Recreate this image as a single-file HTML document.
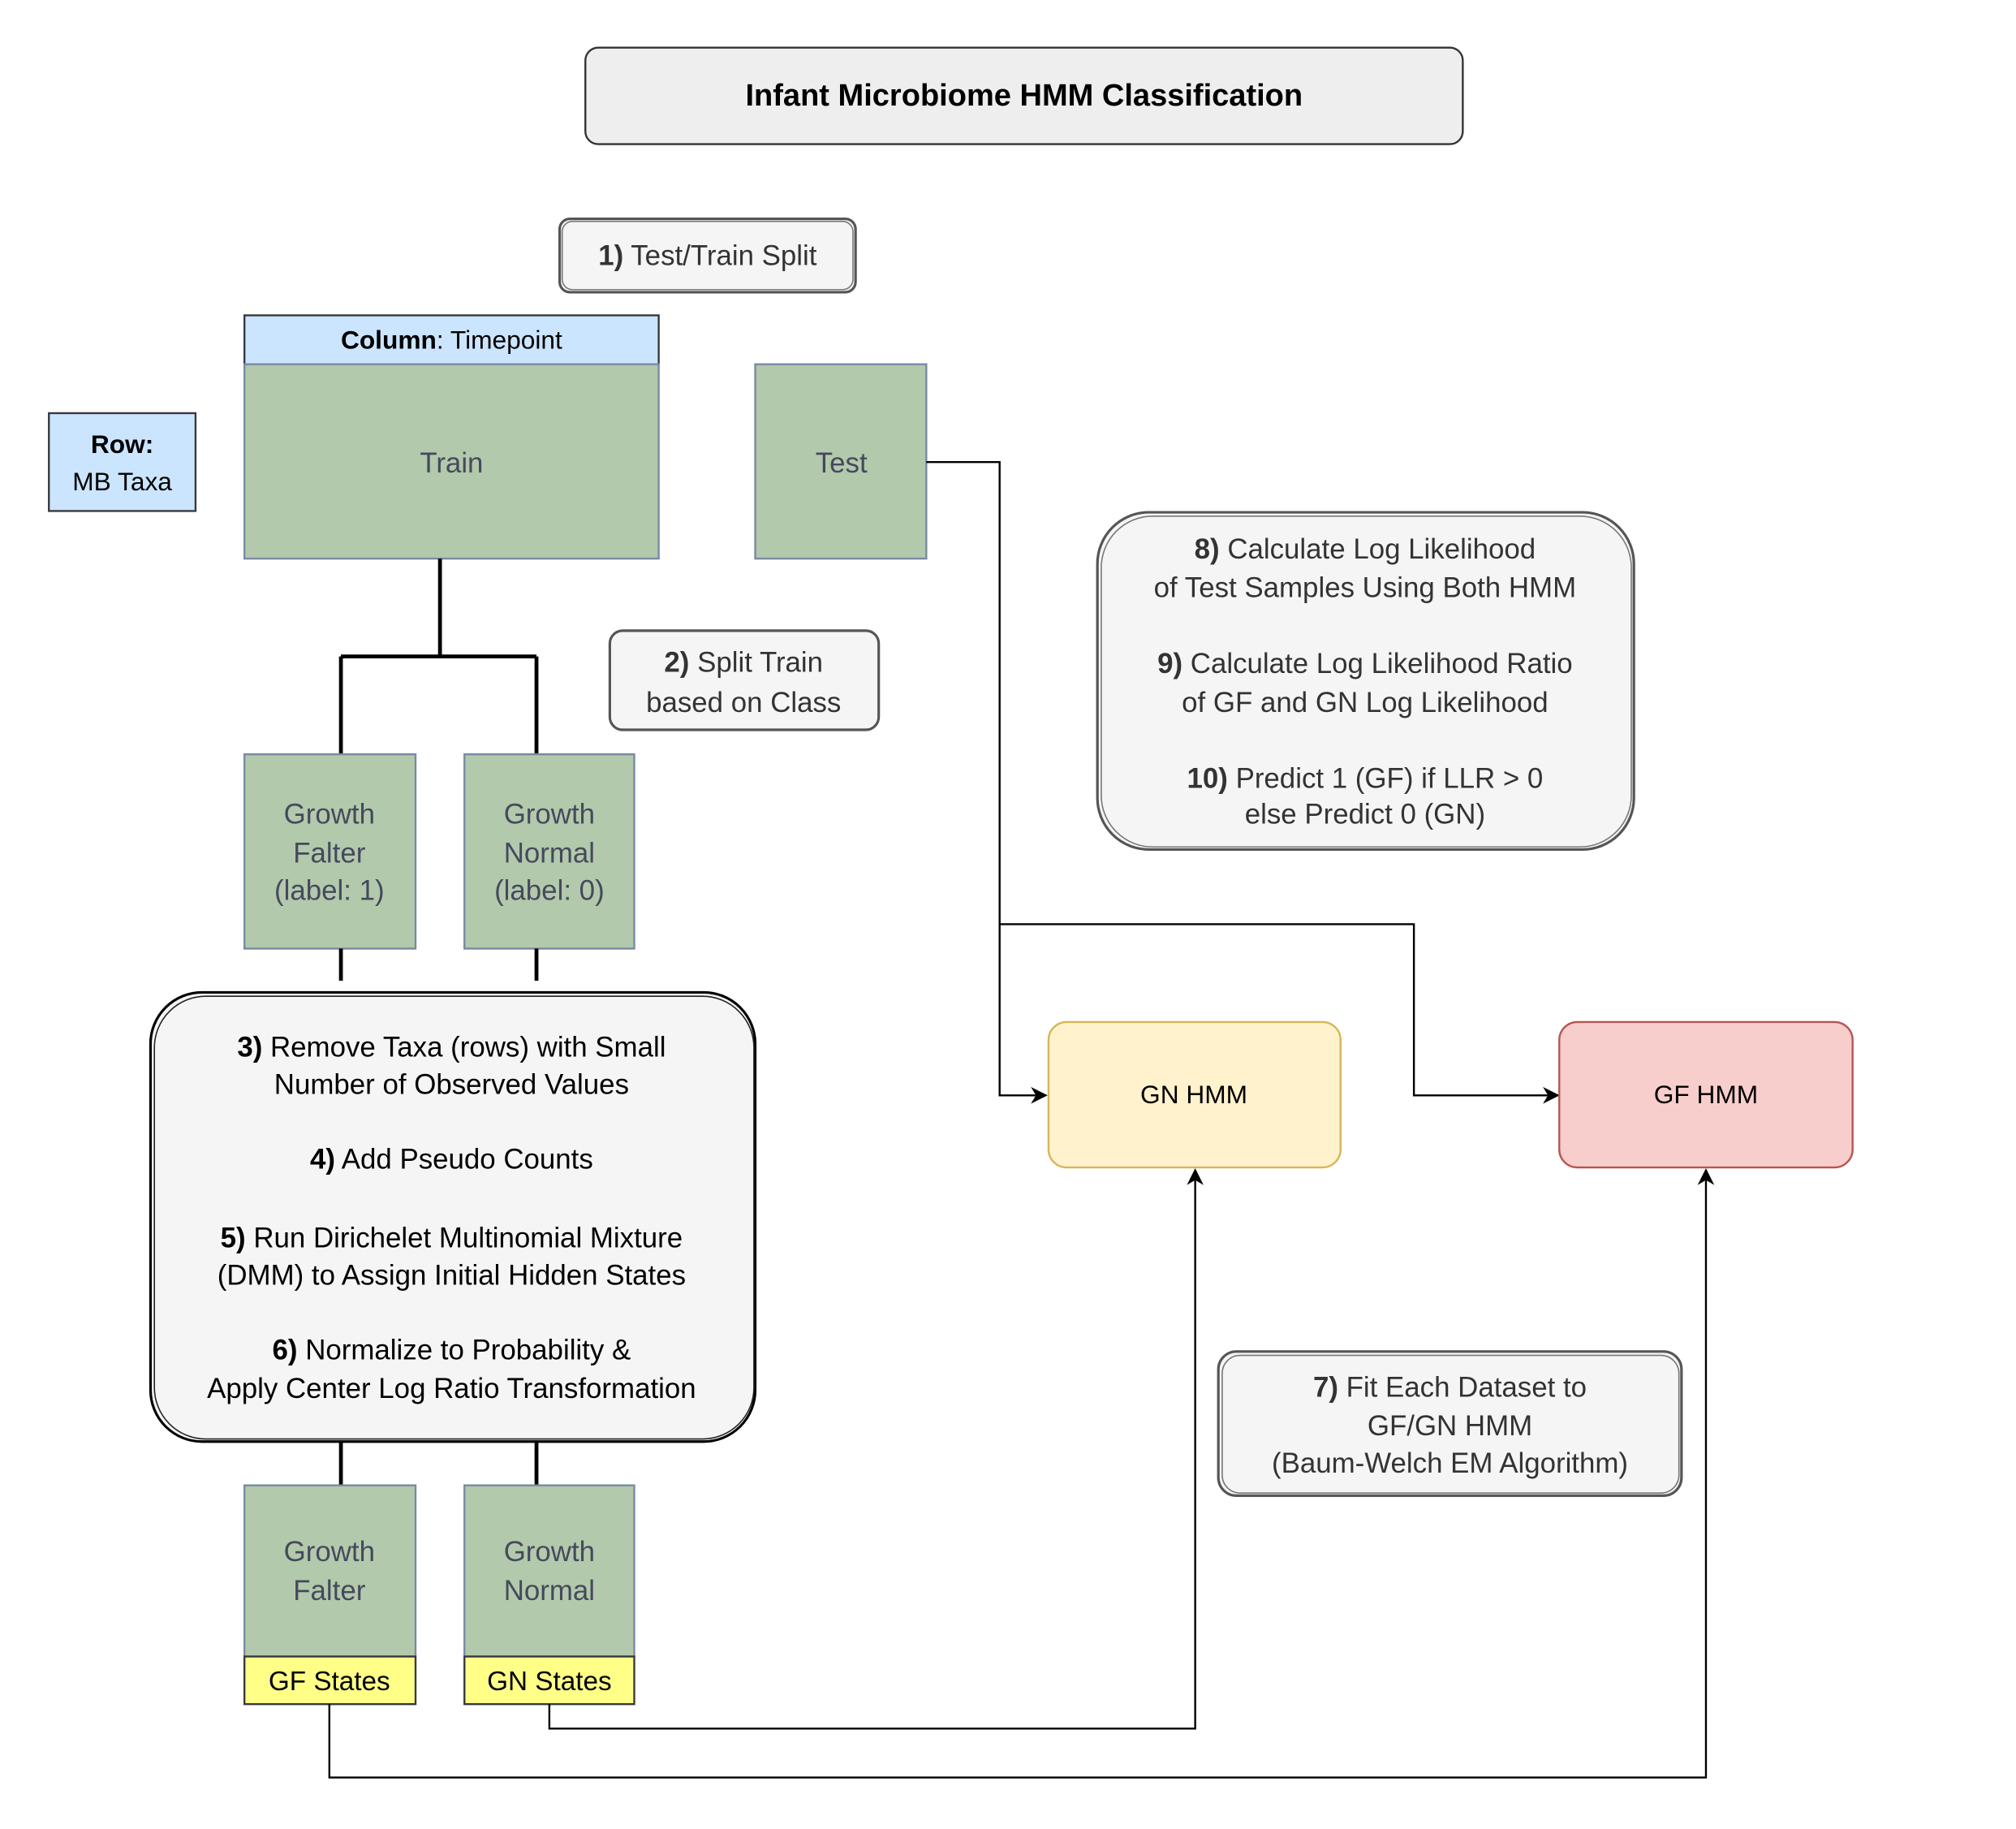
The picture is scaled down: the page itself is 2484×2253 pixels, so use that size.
<!DOCTYPE html>
<html><head><meta charset="utf-8"><style>
html,body{margin:0;padding:0;background:#fff;}
svg{display:block;}
text{font-family:"Liberation Sans",Arial,sans-serif;}
</style></head><body>
<svg width="2484" height="2253" viewBox="0 0 1567 1421" preserveAspectRatio="none" xmlns="http://www.w3.org/2000/svg">
<defs>
<marker id="ar" viewBox="0 0 10 10" refX="9" refY="5" markerWidth="13" markerHeight="13" orient="auto" markerUnits="userSpaceOnUse">
<path d="M0,0 L10,5 L0,10 L3,5 Z" fill="#000"/></marker>
</defs>
<g font-size="22" text-anchor="middle">
<!-- title -->
<rect x="455" y="37" width="682" height="75" rx="10" fill="#eeeeee" stroke="#333" stroke-width="1.5"/>
<text x="796" y="82" font-weight="bold" font-size="24" fill="#000">Infant Microbiome HMM Classification</text>

<!-- step 1 -->
<rect x="435" y="170" width="230" height="57" rx="8" fill="#f5f5f5" stroke="#555" stroke-width="2"/>
<rect x="437" y="172" width="226" height="53" rx="8" fill="none" stroke="#777" stroke-width="1"/>
<text x="550" y="206" fill="#333"><tspan font-weight="bold">1)</tspan> Test/Train Split</text>

<!-- column header -->
<rect x="190" y="245" width="322" height="38" fill="#cce5ff" stroke="#36393d" stroke-width="1.5"/>
<text x="351" y="271" font-size="20" fill="#000"><tspan font-weight="bold">Column</tspan>: Timepoint</text>
<rect x="190" y="283" width="322" height="151" fill="#b2c9ab" stroke="#788aa3" stroke-width="1.5"/>
<text x="351" y="367" fill="#46495d">Train</text>

<rect x="38" y="321" width="114" height="76" fill="#cce5ff" stroke="#36393d" stroke-width="1.5"/>
<text x="95" y="352" font-size="20" font-weight="bold" fill="#000">Row:</text>
<text x="95" y="381" font-size="20" fill="#000">MB Taxa</text>

<rect x="587" y="283" width="133" height="151" fill="#b2c9ab" stroke="#788aa3" stroke-width="1.5"/>
<text x="654" y="367" fill="#46495d">Test</text>

<!-- connectors from test -->
<path d="M720,359 H777 V851 H813" fill="none" stroke="#000" stroke-width="1.5" marker-end="url(#ar)"/>
<path d="M777,718 H1099 V851 H1211" fill="none" stroke="#000" stroke-width="1.5" marker-end="url(#ar)"/>

<!-- train split -->
<path d="M342,434 V510 M265,510 H417 M265,510 V586 M417,510 V586" fill="none" stroke="#000" stroke-width="3"/>

<!-- step 2 -->
<rect x="474" y="490" width="209" height="77" rx="10" fill="#f5f5f5" stroke="#555" stroke-width="2"/>
<text x="578" y="522" fill="#333"><tspan font-weight="bold">2)</tspan> Split Train</text>
<text x="578" y="553" fill="#333">based on Class</text>

<!-- GF / GN boxes -->
<rect x="190" y="586" width="133" height="151" fill="#b2c9ab" stroke="#788aa3" stroke-width="1.5"/>
<text x="256" y="640" fill="#46495d">Growth</text>
<text x="256" y="670" fill="#46495d">Falter</text>
<text x="256" y="699" fill="#46495d">(label: 1)</text>
<rect x="361" y="586" width="132" height="151" fill="#b2c9ab" stroke="#788aa3" stroke-width="1.5"/>
<text x="427" y="640" fill="#46495d">Growth</text>
<text x="427" y="670" fill="#46495d">Normal</text>
<text x="427" y="699" fill="#46495d">(label: 0)</text>

<path d="M265,737 V762 M417,737 V762 M265,1120 V1154 M417,1120 V1154" fill="none" stroke="#000" stroke-width="3"/>

<!-- big process box -->
<rect x="117" y="771" width="470" height="349" rx="40" fill="#f5f5f5" stroke="#000" stroke-width="2"/>
<rect x="120" y="774" width="466" height="344" rx="40" fill="none" stroke="#222" stroke-width="1"/>
<text x="351" y="821" fill="#000"><tspan font-weight="bold">3)</tspan> Remove Taxa (rows) with Small</text>
<text x="351" y="850" fill="#000">Number of Observed Values</text>
<text x="351" y="908" fill="#000"><tspan font-weight="bold">4)</tspan> Add Pseudo Counts</text>
<text x="351" y="969" fill="#000"><tspan font-weight="bold">5)</tspan> Run Dirichelet Multinomial Mixture</text>
<text x="351" y="998" fill="#000">(DMM) to Assign Initial Hidden States</text>
<text x="351" y="1056" fill="#000"><tspan font-weight="bold">6)</tspan> Normalize to Probability &amp;</text>
<text x="351" y="1086" fill="#000">Apply Center Log Ratio Transformation</text>

<!-- bottom boxes -->
<rect x="190" y="1154" width="133" height="133" fill="#b2c9ab" stroke="#788aa3" stroke-width="1.5"/>
<text x="256" y="1213" fill="#46495d">Growth</text>
<text x="256" y="1243" fill="#46495d">Falter</text>
<rect x="190" y="1287" width="133" height="37" fill="#ffff88" stroke="#36393d" stroke-width="1.5"/>
<text x="256" y="1313" font-size="21" fill="#000">GF States</text>
<rect x="361" y="1154" width="132" height="133" fill="#b2c9ab" stroke="#788aa3" stroke-width="1.5"/>
<text x="427" y="1213" fill="#46495d">Growth</text>
<text x="427" y="1243" fill="#46495d">Normal</text>
<rect x="361" y="1287" width="132" height="37" fill="#ffff88" stroke="#36393d" stroke-width="1.5"/>
<text x="427" y="1313" font-size="21" fill="#000">GN States</text>

<path d="M427,1324 V1343 H929 V909" fill="none" stroke="#000" stroke-width="1.5" marker-end="url(#ar)"/>
<path d="M256,1324 V1381 H1326 V909" fill="none" stroke="#000" stroke-width="1.5" marker-end="url(#ar)"/>

<!-- HMM boxes -->
<rect x="815" y="794" width="227" height="113" rx="14" fill="#fff2cc" stroke="#d6b656" stroke-width="1.5"/>
<text x="928" y="857" font-size="20" fill="#000">GN HMM</text>
<rect x="1212" y="794" width="228" height="113" rx="14" fill="#f8cecc" stroke="#b85450" stroke-width="1.5"/>
<text x="1326" y="857" font-size="20" fill="#000">GF HMM</text>

<!-- step 8-10 -->
<rect x="853" y="398" width="417" height="262" rx="40" fill="#f5f5f5" stroke="#555" stroke-width="2"/>
<rect x="856" y="401" width="412" height="257" rx="40" fill="none" stroke="#777" stroke-width="1"/>
<text x="1061" y="434" fill="#333"><tspan font-weight="bold">8)</tspan> Calculate Log Likelihood</text>
<text x="1061" y="464" fill="#333">of Test Samples Using Both HMM</text>
<text x="1061" y="523" fill="#333"><tspan font-weight="bold">9)</tspan> Calculate Log Likelihood Ratio</text>
<text x="1061" y="553" fill="#333">of GF and GN Log Likelihood</text>
<text x="1061" y="612" fill="#333"><tspan font-weight="bold">10)</tspan> Predict 1 (GF) if LLR &gt; 0</text>
<text x="1061" y="640" fill="#333">else Predict 0 (GN)</text>

<!-- step 7 -->
<rect x="947" y="1050" width="360" height="112" rx="14" fill="#f5f5f5" stroke="#555" stroke-width="2"/>
<rect x="950" y="1053" width="355" height="107" rx="14" fill="none" stroke="#777" stroke-width="1"/>
<text x="1127" y="1085" fill="#333"><tspan font-weight="bold">7)</tspan> Fit Each Dataset to</text>
<text x="1127" y="1115" fill="#333">GF/GN HMM</text>
<text x="1127" y="1144" fill="#333">(Baum-Welch EM Algorithm)</text>
</g>
</svg>
</body></html>
